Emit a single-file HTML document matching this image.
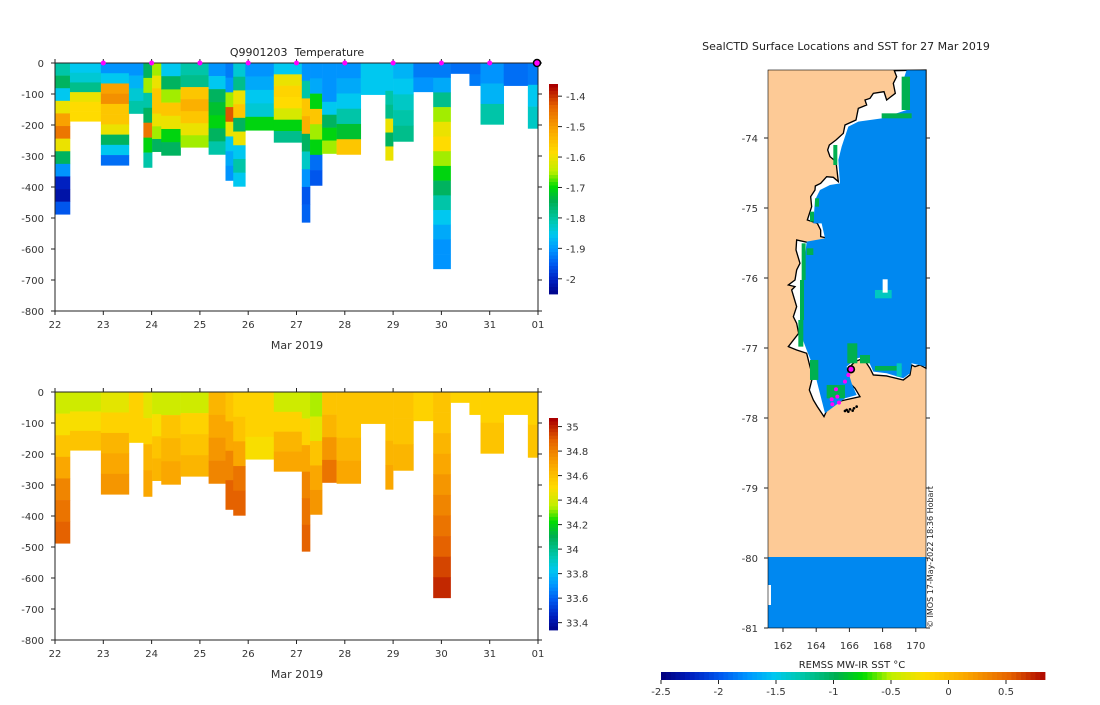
<!DOCTYPE html>
<html><head><meta charset="utf-8"><style>
body{margin:0;background:#fff;}
svg{font-family:"DejaVu Sans","Liberation Sans",sans-serif;font-size:10px;fill:#333;}
</style></head><body>
<svg id="fig" width="1100" height="700" viewBox="0 0 1100 700" xmlns="http://www.w3.org/2000/svg">
<rect width="1100" height="700" fill="#fff"/>
<g id="top"></g>
<g id="bot"></g>
<g id="map">
  <text x="846" y="50" text-anchor="middle" font-size="11" fill="#222">SealCTD Surface Locations and SST for 27 Mar 2019</text>
  <rect x="768" y="70" width="158" height="558" fill="#fdca96"/>
  <g transform="translate(730,50) scale(0.3333)">
    <polygon fill="#fff" stroke="#000" stroke-width="4" points="493,62 500,80 490,100 496,130 470,150 462,125 430,130 420,145 405,150 410,165 385,175 378,210 345,225 340,250 318,270 298,285 293,300 300,320 318,335 325,395 310,382 290,380 272,400 256,408 255,420 242,440 245,470 232,510 262,520 272,540 272,560 295,565 300,580 290,590 200,570 198,600 210,640 200,660 195,690 175,705 195,710 185,720 200,770 190,800 200,820 206,850 175,890 200,900 230,910 240,950 248,980 238,1020 250,1050 262,1070 282,1100 300,1060 345,1050 390,1040 375,1015 360,1000 350,960 375,935 400,925 420,955 430,975 470,978 520,990 540,975 545,945 555,950 570,945 588,955 588,60"/>
    <polygon fill="#0088f0" points="520,90 540,95 530,180 455,205 385,215 355,230 335,290 325,330 330,400 300,405 270,420 255,450 250,520 275,520 285,565 230,575 225,620 215,700 210,780 215,860 230,900 250,950 262,1000 285,1090 345,1045 380,1035 365,1000 350,950 380,925 410,920 430,965 470,970 520,985 540,970 545,940 588,950 588,60 530,60"/>
    <g fill="#00b050">
      <rect x="310" y="285" width="12" height="60"/><rect x="255" y="445" width="12" height="25"/><rect x="240" y="485" width="12" height="30"/>
      <rect x="215" y="580" width="12" height="110"/><rect x="210" y="690" width="12" height="120"/><rect x="205" y="810" width="15" height="80"/>
      <rect x="240" y="930" width="25" height="60"/><rect x="290" y="1005" width="55" height="40"/><rect x="352" y="880" width="30" height="60"/>
      <rect x="390" y="915" width="30" height="25"/><rect x="435" y="948" width="80" height="14"/><rect x="455" y="190" width="90" height="15"/>
      <rect x="515" y="80" width="25" height="100"/><rect x="230" y="595" width="20" height="20"/>
    </g>
    <g fill="#00c8c0"><rect x="435" y="720" width="50" height="25"/><rect x="500" y="940" width="15" height="40"/></g>
    <rect x="458" y="688" width="15" height="40" fill="#fff"/>
    <g fill="#ff00ff"><circle cx="363" cy="958" r="10" stroke="#000" stroke-width="5"/><circle cx="355" cy="975" r="6"/><circle cx="345" cy="995" r="6"/><circle cx="318" cy="1018" r="6"/><circle cx="322" cy="1040" r="6"/><circle cx="305" cy="1048" r="6"/><circle cx="327" cy="1058" r="6"/><circle cx="307" cy="1063" r="6"/></g>
    <g fill="#000"><circle cx="350" cy="1080" r="4"/><circle cx="360" cy="1078" r="4"/><circle cx="372" cy="1075" r="4"/><circle cx="380" cy="1070" r="4"/><circle cx="355" cy="1085" r="4"/><circle cx="345" cy="1083" r="4"/><circle cx="368" cy="1082" r="4"/></g>
  </g>
  <rect x="768" y="557" width="158" height="71" fill="#0088f0"/>
  <rect x="768" y="585" width="3" height="20" fill="#fff"/>
  <rect x="768" y="70" width="158" height="558" fill="none" stroke="#000" stroke-width="0.6"/>
  <g id="mapaxes"></g>
  <text transform="translate(933,628) rotate(-90)" font-size="8" fill="#222">© IMOS 17-May-2022 18:36 Hobart</text>
  <text x="852" y="668" text-anchor="middle" fill="#222">REMSS MW-IR SST °C</text>
  <g id="hbar"></g>
</g>
</svg>
<script>
const tempCols=[[22.0,22.31,488],[22.31,22.95,188],[22.95,23.53,330],[23.53,23.83,163],[23.83,24.01,337],[24.01,24.2,286],[24.2,24.6,298],[24.6,25.18,272],[25.18,25.53,295],[25.53,25.69,379],[25.69,25.94,398],[25.94,26.53,217],[26.53,27.11,256],[27.11,27.28,514],[27.28,27.53,395],[27.53,27.83,292],[27.83,28.33,295],[28.33,28.84,102],[28.84,29.0,314],[29.0,29.42,253],[29.42,29.83,93],[29.83,30.19,664],[30.19,30.58,34],[30.58,30.81,73],[30.81,31.29,198],[31.29,31.79,73],[31.79,32.0,211]];
const tempVals=[[-1.8,-1.75,-1.85,-1.6,-1.5,-1.45,-1.6,-1.75,-1.9,-2.0,-2.02,-1.95],[-1.85,-1.83,-1.78,-1.6,-1.58,-1.58],[-1.9,-1.85,-1.5,-1.48,-1.55,-1.55,-1.6,-1.75,-1.85,-1.93],[-1.9,-1.87,-1.83,-1.8],[-1.75,-1.65,-1.8,-1.75,-1.45,-1.7,-1.8],[-1.65,-1.6,-1.55,-1.55,-1.6,-1.65,-1.75],[-1.85,-1.75,-1.65,-1.55,-1.6,-1.7,-1.75],[-1.8,-1.78,-1.55,-1.52,-1.55,-1.6,-1.65],[-1.9,-1.85,-1.75,-1.72,-1.7,-1.75,-1.8],[-1.92,-1.9,-1.65,-1.42,-1.6,-1.85,-1.88,-1.9],[-1.83,-1.78,-1.6,-1.55,-1.75,-1.6,-1.85,-1.8,-1.85],[-1.9,-1.88,-1.85,-1.83,-1.7],[-1.85,-1.6,-1.57,-1.58,-1.62,-1.7,-1.78],[-1.9,-1.8,-1.55,-1.52,-1.75,-1.82,-1.9,-1.95,-1.94],[-1.9,-1.88,-1.7,-1.55,-1.65,-1.7,-1.93,-1.95],[-1.9,-1.9,-1.9,-1.85,-1.75,-1.7,-1.65],[-1.9,-1.88,-1.85,-1.8,-1.72,-1.55],[-1.85,-1.85],[-1.85,-1.85,-1.8,-1.78,-1.6,-1.75,-1.6],[-1.87,-1.85,-1.82,-1.8,-1.78],[-1.92,-1.9],[-1.92,-1.88,-1.78,-1.65,-1.6,-1.58,-1.65,-1.7,-1.75,-1.8,-1.85,-1.88,-1.9,-1.9],[-1.93],[-1.93,-1.92],[-1.9,-1.87,-1.8],[-1.93,-1.93],[-1.92,-1.85,-1.82]];
const salVals=[[34.4,34.5,34.6,34.7,34.8,34.85,34.9],[34.4,34.5,34.6],[34.45,34.55,34.65,34.7,34.75],[34.55,34.55],[34.45,34.55,34.65,34.7],[34.4,34.5,34.6,34.65],[34.4,34.6,34.65,34.7],[34.4,34.55,34.6,34.65],[34.65,34.7,34.75,34.8],[34.6,34.7,34.8,34.9],[34.55,34.6,34.7,34.85,34.9],[34.55,34.55,34.5],[34.4,34.55,34.65,34.7],[34.4,34.55,34.7,34.8,34.85,34.9],[34.35,34.45,34.6,34.7,34.75],[34.6,34.65,34.75,34.85],[34.6,34.6,34.65,34.7],[34.6],[34.6,34.6,34.65,34.7],[34.6,34.6,34.65],[34.55],[34.6,34.6,34.65,34.7,34.75,34.8,34.85,34.9,34.95,35.0],[34.55],[34.55],[34.55,34.6],[34.55],[34.55,34.6]];
const dayTicks=[22,23,24,25,26,27,28,29,30,31,32];
const dayLabels=["22","23","24","25","26","27","28","29","30","31","01"];
const depthTicks=[0,-100,-200,-300,-400,-500,-600,-700,-800];
const tempTicks=[-1.4,-1.5,-1.6,-1.7,-1.8,-1.9,-2];
const salTicks=[35,34.8,34.6,34.4,34.2,34,33.8,33.6,33.4];
const markerDays=[23,24,25,26,27,28,29,30,31];
const latTicks=[-74,-75,-76,-77,-78,-79,-80,-81];
const lonTicks=[162,164,166,168,170];
const sstTicks=[-2.5,-2,-1.5,-1,-0.5,0,0.5];

const NS="http://www.w3.org/2000/svg";
function mk(p,t,a){const e=document.createElementNS(NS,t);for(const k in a)e.setAttribute(k,a[k]);p.appendChild(e);return e;}
const stops=[[0,[0,0,128]],[0.07,[0,30,190]],[0.15,[0,90,240]],[0.22,[0,150,255]],[0.29,[0,200,240]],[0.35,[0,200,180]],[0.45,[0,175,80]],[0.52,[0,220,0]],[0.59,[190,240,0]],[0.68,[255,220,0]],[0.79,[250,165,0]],[0.9,[230,100,0]],[1,[170,0,0]]];
function cmap(t){t=Math.max(0,Math.min(1,t));for(let i=1;i<stops.length;i++){if(t<=stops[i][0]){const a=stops[i-1],b=stops[i],f=(t-a[0])/(b[0]-a[0]);return 'rgb('+a[1].map((v,j)=>Math.round(v+(b[1][j]-v)*f)).join(',')+')';}}return 'rgb(170,0,0)';}

function panel(g,y0,vals,vmin,vmax,cbTop,cbBot,cbTicks,markers){
  const x=d=>55+(d-22)*(483/10), y=dep=>y0+dep*0.31;
  const cols=mk(g,'g',{});
  
  
  tempCols.forEach((c,i)=>{const v=vals[i],n=v.length,h=(y(c[2])-y(0))/n;
    v.forEach((val,j)=>{const r=mk(cols,'rect',{x:x(c[0]),y:y(0)+j*h,width:x(c[1])-x(c[0])+0.3,height:h+0.3,fill:cmap((val-vmin)/(vmax-vmin))});
      
      });});
  mk(g,'rect',{x:55,y:y0,width:483,height:248,fill:'none',stroke:'#222','stroke-width':1});
  dayTicks.forEach((d,i)=>{mk(g,'line',{x1:x(d),x2:x(d),y1:y0+248,y2:y0+252,stroke:'#222'});mk(g,'line',{x1:x(d),x2:x(d),y1:y0,y2:y0-4,stroke:'#222'});
    const t=mk(g,'text',{x:x(d),y:y0+265,'text-anchor':'middle'});t.textContent=dayLabels[i];
    
    });
  const xl=mk(g,'text',{x:297,y:y0+286,'text-anchor':'middle','font-size':11});xl.textContent='Mar 2019';
  
  
  depthTicks.forEach(d=>{mk(g,'line',{x1:51,x2:55,y1:y(-d),y2:y(-d),stroke:'#222'});mk(g,'line',{x1:538,x2:542,y1:y(-d),y2:y(-d),stroke:'#222'});
    const t=mk(g,'text',{x:44,y:y(-d)+4,'text-anchor':'end'});t.textContent=d;
    
    });
  const cb=mk(g,'g',{});
  
  
  for(let i=0;i<60;i++){const h=(cbBot-cbTop)/60;mk(cb,'rect',{x:549,y:cbTop+i*h,width:9,height:h+0.4,fill:cmap(1-i/60)});}
  const cy=v=>cbBot-(v-vmin)/(vmax-vmin)*(cbBot-cbTop);
  cbTicks.forEach(v=>{mk(cb,'line',{x1:558,x2:562,y1:cy(v),y2:cy(v),stroke:'#222'});const t=mk(cb,'text',{x:566,y:cy(v)+4});t.textContent=v;
    
    });
  if(markers){markerDays.forEach(d=>{const m=mk(g,'circle',{cx:x(d),cy:y0,r:2.5,fill:'#ff00ff'});
      
      });
    const m=mk(g,'circle',{cx:x(32)-1,cy:y0,r:3.5,fill:'#ff00ff',stroke:'#000','stroke-width':1.5});
    
    
    const t=mk(g,'text',{x:297,y:y0-7,'text-anchor':'middle','font-size':11,fill:'#222','xml:space':'preserve'});t.textContent='Q9901203\u00a0 Temperature';
    
    }
}
panel(document.getElementById('top'),63,tempVals,-2.05,-1.36,84,294,tempTicks,true);
panel(document.getElementById('bot'),392,salVals,33.34,35.07,418,630,salTicks,false);

const ma=document.getElementById('mapaxes');
const ly=v=>138+(-74-v)*70, lx=v=>783+(v-162)*16.6;
latTicks.forEach(v=>{mk(ma,'line',{x1:764,x2:768,y1:ly(v),y2:ly(v),stroke:'#222'});mk(ma,'line',{x1:926,x2:930,y1:ly(v),y2:ly(v),stroke:'#222'});
  const t=mk(ma,'text',{x:758,y:ly(v)+4,'text-anchor':'end'});t.textContent=v;
  
  });
lonTicks.forEach(v=>{mk(ma,'line',{x1:lx(v),x2:lx(v),y1:628,y2:632,stroke:'#222'});
  const t=mk(ma,'text',{x:lx(v),y:649,'text-anchor':'middle'});t.textContent=v;
  
  });
const hb=document.getElementById('hbar');
const hx=v=>661+(v+2.5)*115;
for(let i=0;i<80;i++){const w=384/80;mk(hb,'rect',{x:661+i*w,y:672,width:w+0.4,height:8,fill:cmap(i/80)});}
sstTicks.forEach(v=>{mk(hb,'line',{x1:hx(v),x2:hx(v),y1:680,y2:684,stroke:'#222'});const t=mk(hb,'text',{x:hx(v),y:695,'text-anchor':'middle'});t.textContent=v;
  
  });
</script>
</body></html>
